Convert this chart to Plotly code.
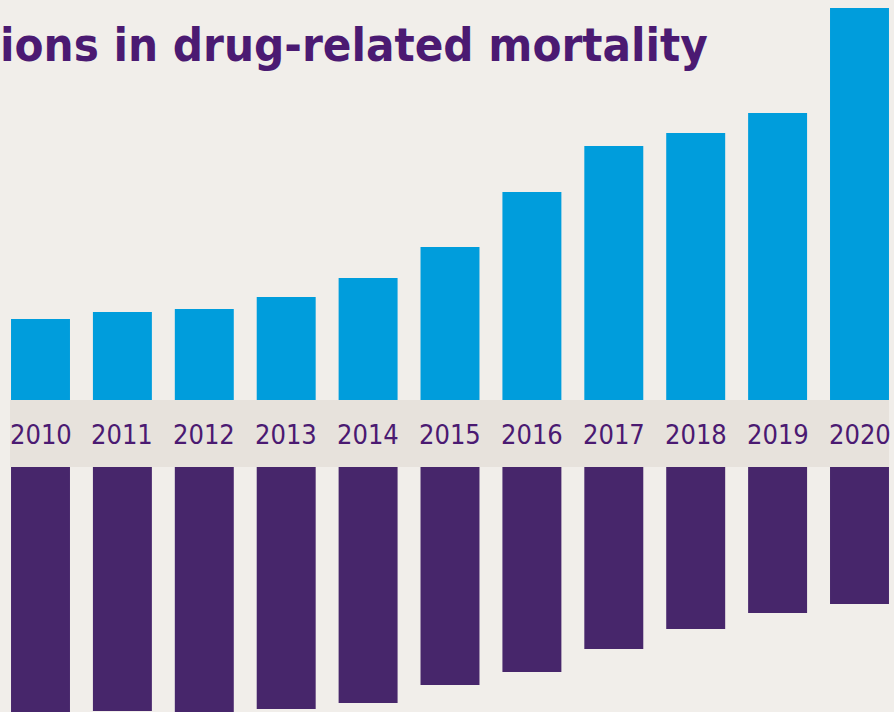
import plotly.graph_objects as go

years = [2010, 2011, 2012, 2013, 2014, 2015, 2016, 2017, 2018, 2019, 2020]
upper_values = [81, 88, 91, 103, 122, 153, 208, 254, 267, 287, 392]
lower_values = [250, 244, 250, 242, 236, 218, 205, 182, 162, 146, 137]
year_labels = [str(y) for y in years]
title_text = "ions in drug-related mortality"

BG = "#f1eeea"
BAND = "#e7e2dc"
BLUE = "#009ddc"
PURPLE = "#47266b"
TEXT = "#4b1a72"

top_dom = [1 - 400 / 712, 1.0]
bot_dom = [0.0, 1 - 467 / 712]

fig = go.Figure()
fig.add_trace(go.Bar(x=years, y=upper_values, marker=dict(color=BLUE, line=dict(width=0)),
                     width=0.72, yaxis="y", hoverinfo="x+y"))
fig.add_trace(go.Bar(x=years, y=lower_values, marker=dict(color=PURPLE, line=dict(width=0)),
                     width=0.72, yaxis="y2", hoverinfo="x+y"))

fig.add_shape(type="rect", xref="paper", yref="paper", x0=10 / 894, x1=889 / 894,
              y0=bot_dom[1], y1=top_dom[0], fillcolor=BAND, line=dict(width=0), layer="below")

band_mid = (bot_dom[1] + top_dom[0]) / 2
for yr, lab in zip(years, year_labels):
    fig.add_annotation(x=yr, xref="x", y=band_mid, yref="paper", text=lab, showarrow=False,
                       xanchor="center", yanchor="middle", yshift=-1,
                       font=dict(family="DejaVu Sans Condensed, sans-serif",
                                 size=27, color=TEXT))

fig.add_annotation(x=0, xref="paper", y=1, yref="paper", text="<b>" + title_text + "</b>",
                   showarrow=False, xanchor="left", yanchor="top", xshift=-2, yshift=-15,
                   font=dict(family="DejaVu Sans Condensed, sans-serif",
                             size=47, color=TEXT))

step = 81.9
fig.update_layout(
    width=894, height=712, margin=dict(l=0, r=0, t=0, b=0),
    paper_bgcolor=BG, plot_bgcolor=BG, showlegend=False, barmode="overlay",
    xaxis=dict(range=[2010 - 40.5 / step, 2010 + (894 - 40.5) / step], visible=False,
               fixedrange=True),
    yaxis=dict(domain=top_dom, range=[0, 400], visible=False, fixedrange=True),
    yaxis2=dict(domain=bot_dom, range=[245, 0], visible=False, anchor="x", fixedrange=True),
)

fig.write_html("out.html")
